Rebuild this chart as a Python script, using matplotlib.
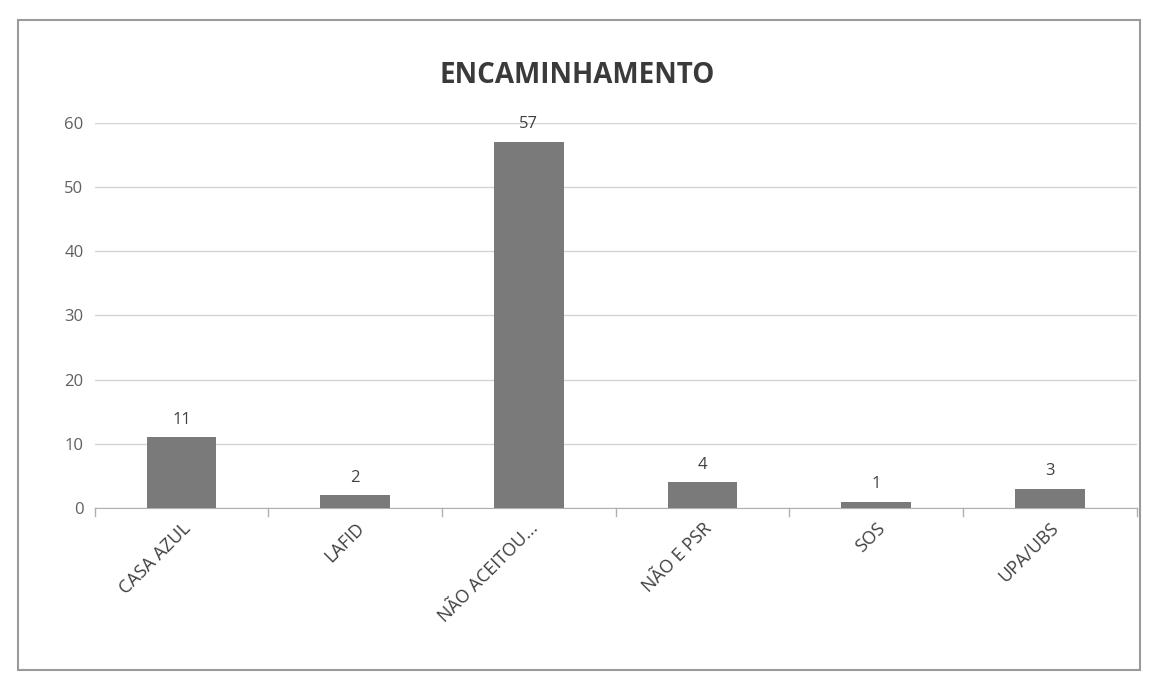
import matplotlib.pyplot as plt
from matplotlib.patches import Rectangle

# data
categories = ['CASA AZUL', 'LAFID', 'NÃO ACEITOU...', 'NÃO E PSR', 'SOS', 'UPA/UBS']
values = [11, 2, 57, 4, 1, 3]
y_ticks = [0, 10, 20, 30, 40, 50, 60]

plt.rcParams['font.family'] = ['Open Sans', 'DejaVu Sans']

fig = plt.figure(figsize=(11.54, 6.82), dpi=100)
ax = fig.add_axes([0.082, 0.255, 0.903, 0.565])

x = range(len(categories))
bars = ax.bar(x, values, width=0.4, color='#7a7a7a', zorder=3)

# data labels
for i, v in enumerate(values):
    ax.text(i, v + 1.5, str(v), ha='center', va='bottom', fontsize=12, color='#404040')

ax.set_xlim(-0.5, len(categories) - 0.5)
ax.set_ylim(0, 60)
ax.set_yticks(y_ticks)
ax.set_xticks(list(x))
ax.set_xticklabels(categories, rotation=45, ha='right', rotation_mode='anchor',
                   fontsize=13, color='#404040')
ax.tick_params(axis='y', length=0, labelsize=12, labelcolor='#606060', pad=8)
ax.tick_params(axis='x', length=0, pad=8)

# excel style: ticks between categories
for b in range(len(categories) + 1):
    ax.plot([b - 0.5, b - 0.5], [0, -1.2], color='#b0b0b0', lw=1, clip_on=False)

ax.grid(axis='y', color='#d4d4d4', lw=1, zorder=0)
for s in ['top', 'right', 'left']:
    ax.spines[s].set_visible(False)
ax.spines['bottom'].set_color('#b0b0b0')

fig.text(0.5, 0.89, 'ENCAMINHAMENTO', ha='center', va='center',
         fontsize=20, fontweight='bold', color='#3a3a3a')

# chart border
fig.patches.append(Rectangle((0.016, 0.018), 0.972, 0.952, transform=fig.transFigure,
                             fill=False, edgecolor='#9a9a9a', lw=1.5))

plt.savefig('out.png', dpi=100)
